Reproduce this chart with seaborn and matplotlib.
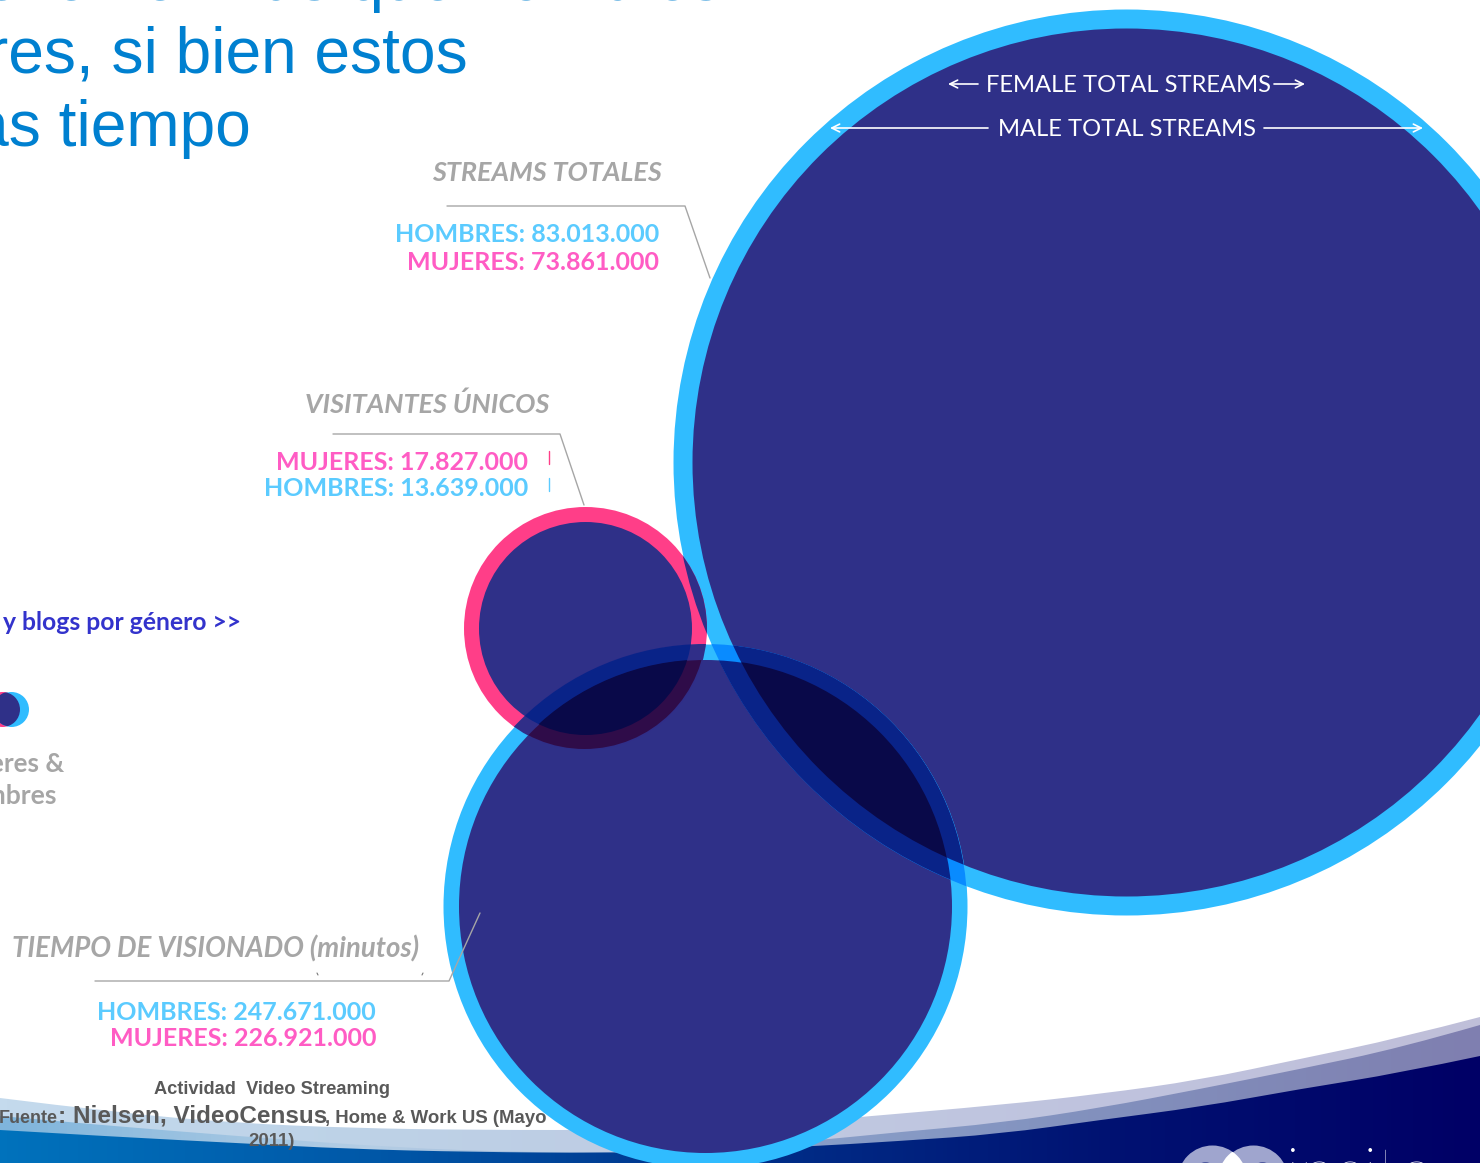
import numpy as np
import pandas as pd
import matplotlib.pyplot as plt
from matplotlib.colors import LinearSegmentedColormap, to_rgb
from matplotlib.patches import Circle, PathPatch
from matplotlib.path import Path
import seaborn as sns

# activate seaborn visual
sns.set_style('white')

# values printed on the chart
streams_men = 83013000
streams_women = 73861000
visitors_women = 17827000
visitors_men = 13639000
minutes_men = 247671000
minutes_women = 226921000

# bubbles, measured in pixels of the picture
bubble_x = [1126, 584.5, 705]
bubble_y = [462, 627.5, 906]
bubble_outer = [453, 121.5, 262]
bubble_inner = [434, 106.5, 246.5]

BLUE = '#30BCFF'
PINK = '#FF3E88'
NAVY = '#2F3088'
bubble_ring = [BLUE, PINK, BLUE]

# wave at the bottom
wave_light_x = [0, 120, 236, 350, 472, 640, 780, 860, 1000, 1100, 1200, 1300, 1400, 1480]
wave_light_y = [1098, 1113, 1123, 1128, 1130, 1130, 1124, 1117, 1105, 1094, 1080, 1059, 1038, 1017]
wave_mid_x = [0, 100, 236, 400, 520, 604, 700, 800, 900, 1000, 1100, 1200, 1300, 1400, 1480]
wave_mid_y = [1116, 1125, 1136, 1148, 1152, 1153, 1150, 1142, 1132, 1123, 1108, 1089, 1069, 1048, 1025]
wave_dark_x = [0, 120, 236, 350, 472, 604, 700, 800, 900, 1000, 1100, 1200, 1300, 1400, 1480]
wave_dark_y = [1130, 1137, 1143, 1149, 1152, 1153, 1151, 1147, 1141, 1134, 1120, 1107, 1089, 1073, 1056]

W, H = 1480, 1163
DPI = 100


def px(size):
    # text size from pixels to points
    return size * 72 / DPI


def multiply(a, b):
    return tuple(np.array(to_rgb(a)) * np.array(to_rgb(b)))


def dot(ax, x, y, r, color, clip=None, z=3):
    frame = pd.DataFrame({'x': [x], 'y': [y]})
    sns.scatterplot(data=frame, x='x', y='y', s=(2 * r * 72 / DPI) ** 2, color=color,
                    linewidth=0, legend=False, ax=ax, zorder=z)
    if clip is not None:
        ax.collections[-1].set_clip_path(Circle(clip[:2], clip[2], transform=ax.transData))


def blend(ax, a, b):
    # the bubbles were laid on top of each other in multiply mode
    ax_o = (bubble_x[a], bubble_y[a], bubble_outer[a])
    ax_i = (bubble_x[a], bubble_y[a], bubble_inner[a])
    bx_o = (bubble_x[b], bubble_y[b], bubble_outer[b])
    bx_i = (bubble_x[b], bubble_y[b], bubble_inner[b])
    ring_a, ring_b = bubble_ring[a], bubble_ring[b]
    dot(ax, *ax_o, multiply(ring_a, ring_b), clip=bx_o, z=4)
    dot(ax, *ax_i, multiply(NAVY, ring_b), clip=bx_o, z=4)
    dot(ax, *bx_i, multiply(ring_a, NAVY), clip=ax_o, z=4)
    dot(ax, *ax_i, multiply(NAVY, NAVY), clip=bx_i, z=4)


def wave(ax, xs, ys, colors, z):
    grad = np.linspace(0, 1, 400).reshape(1, -1)
    cmap = LinearSegmentedColormap.from_list('wave', colors)
    img = ax.imshow(grad, cmap=cmap, extent=(0, W, H, 990), aspect='auto', zorder=z)
    # smooth edge: the read points are control points of quadratic curves
    verts = [(xs[0], ys[0])]
    codes = [Path.MOVETO]
    for i in range(1, len(xs) - 1):
        end = (xs[i + 1], ys[i + 1]) if i == len(xs) - 2 else ((xs[i] + xs[i + 1]) / 2, (ys[i] + ys[i + 1]) / 2)
        verts += [(xs[i], ys[i]), end]
        codes += [Path.CURVE3, Path.CURVE3]
    verts += [(W, H), (0, H), (xs[0], ys[0])]
    codes += [Path.LINETO, Path.LINETO, Path.CLOSEPOLY]
    img.set_clip_path(PathPatch(Path(verts, codes), transform=ax.transData))


def money(v):
    return f'{v:,}'.replace(',', '.')


fig = plt.figure(figsize=(W / DPI, H / DPI), dpi=DPI)
ax = fig.add_axes([0, 0, 1, 1])

wave(ax, wave_light_x, wave_light_y, ['#C4DAED', '#BDD2E7', '#BFCAE2', '#BFC3DE', '#BFBFD9'], 1)
wave(ax, wave_mid_x, wave_mid_y, ['#7FB5DC', '#B5CEE5', '#8AA2CB', '#8290BD', '#7F7FB0'], 1.1)
wave(ax, wave_dark_x, wave_dark_y, ['#0072BC', '#0058A8', '#00308A', '#001272', '#000066'], 1.2)

# logo
dot(ax, 1212, 1180, 35, '#9FA5CE', z=2)
dot(ax, 1253, 1180, 35, '#9FA5CE', z=2)
dot(ax, 1212, 1180, 35, 'white', clip=(1253, 1180, 35), z=2.1)
dot(ax, 1205, 1180, 18, '#000F70', z=2.2)
dot(ax, 1262, 1180, 18, '#000F70', z=2.2)
ax.text(1286, 1193, 'insite', color='white', fontsize=px(66), family='Lato', weight='light',
        ha='left', va='baseline', zorder=2.5)

# bubbles
for i in range(3):
    dot(ax, bubble_x[i], bubble_y[i], bubble_outer[i], bubble_ring[i])
    dot(ax, bubble_x[i], bubble_y[i], bubble_inner[i], NAVY)
blend(ax, 0, 2)
blend(ax, 1, 2)
blend(ax, 1, 0)

# small key on the left edge
dot(ax, 2, 709, 17.5, PINK)
dot(ax, 10.5, 709, 17.5, BLUE)
dot(ax, 2, 709, 17.5, NAVY, clip=(10.5, 709, 17.5), z=4)

# headline, cut by the top and left edge of the picture
title_color = '#0080D0'
for txt, xr, yb in [('Hay más visitantes femeninas que hombres', 722, 0),
                    ('espectadores, si bien estos', 468, 73),
                    ('ven más tiempo', 251, 146)]:
    ax.text(xr, yb, txt, color=title_color, fontsize=px(64), family='Liberation Sans',
            ha='right', va='baseline', zorder=6)

# leader lines
GREY = '#A6A6A6'
ax.plot([447, 685, 710], [206, 206, 278], color=GREY, lw=1, zorder=5)
ax.plot([333, 560, 584], [434, 434, 505], color=GREY, lw=1, zorder=5)
ax.plot([95, 449, 480], [981, 981, 913], color=GREY, lw=1, zorder=5)
ax.plot([548.5, 548.5], [451, 464], color=PINK, lw=1, zorder=5)
ax.plot([548.5, 548.5], [478, 491], color='#5BCBFF', lw=1, zorder=5)
ax.plot([317, 318], [973, 975], color='#777777', lw=0.8, zorder=5)
ax.plot([423, 422], [973, 975], color='#777777', lw=0.8, zorder=5)

# grey headings
for txt, xc, yc, size in [('STREAMS TOTALES', 547, 173, 27),
                          ('VISITANTES ÚNICOS', 427, 404, 27),
                          ('TIEMPO DE VISIONADO (minutos)', 216, 949, 27.6)]:
    ax.text(xc, yc, txt, color=GREY, fontsize=px(size), family='Lato', weight='bold',
            style='italic', ha='center', va='center', zorder=6)

# figures
MEN = '#5BCBFF'
WOMEN = '#FF5CC4'
labels = [('HOMBRES: ' + money(streams_men), 659, 235, MEN),
          ('MUJERES: ' + money(streams_women), 659, 262, WOMEN),
          ('MUJERES: ' + money(visitors_women), 528, 462, WOMEN),
          ('HOMBRES: ' + money(visitors_men), 528, 488, MEN),
          ('HOMBRES: ' + money(minutes_men), 376, 1012, MEN),
          ('MUJERES: ' + money(minutes_women), 376, 1038, WOMEN)]
for txt, xr, yc, col in labels:
    ax.text(xr, yc, txt, color=col, fontsize=px(25), family='Lato', weight='bold',
            ha='right', va='center', zorder=6)

ax.text(241, 622, 'y blogs por género >>', color='#3333CC', fontsize=px(24.7), family='Lato',
        weight='bold', ha='right', va='center', zorder=6)
ax.text(64, 764, 'Mujeres &', color=GREY, fontsize=px(26), family='Lato', weight='bold',
        ha='right', va='center', zorder=6)
ax.text(57, 796, 'Hombres', color=GREY, fontsize=px(26.5), family='Lato', weight='bold',
        ha='right', va='center', zorder=6)

# texts inside the big bubble
ax.text(1128, 85, 'FEMALE TOTAL STREAMS', color='white', fontsize=px(23.7), family='Lato',
        ha='center', va='center', zorder=6)
ax.text(1127, 129, 'MALE TOTAL STREAMS', color='white', fontsize=px(23.8), family='Lato',
        ha='center', va='center', zorder=6)
for x0, x1, y in [(978, 948, 84), (1274, 1305, 84), (988, 830, 128), (1264, 1423, 128)]:
    ax.annotate('', xy=(x1, y), xytext=(x0, y), zorder=6,
                arrowprops=dict(arrowstyle='->', color='white', lw=1.2, shrinkA=0, shrinkB=0,
                                mutation_scale=14))

# source
FOOT = '#595959'
ax.text(272, 1090, 'Actividad  Video Streaming', color=FOOT, fontsize=px(18.3),
        family='Liberation Sans', weight='bold', ha='center', va='center', zorder=6)
ax.text(58, 1123, 'Fuente', color=FOOT, fontsize=px(18), family='Liberation Sans',
        weight='bold', ha='right', va='baseline', zorder=6)
ax.text(58, 1123, ': Nielsen, VideoCensus', color=FOOT, fontsize=px(24.2), family='Liberation Sans',
        weight='bold', ha='left', va='baseline', zorder=6)
ax.text(325, 1123, ', Home & Work US (Mayo', color=FOOT, fontsize=px(18.6), family='Liberation Sans',
        weight='bold', ha='left', va='baseline', zorder=6)
ax.text(272, 1142, '2011)', color=FOOT, fontsize=px(18.6), family='Liberation Sans',
        weight='bold', ha='center', va='center', zorder=6)

ax.set_xlim(0, W)
ax.set_ylim(H, 0)
ax.axis('off')

plt.savefig('out.png', dpi=DPI)
